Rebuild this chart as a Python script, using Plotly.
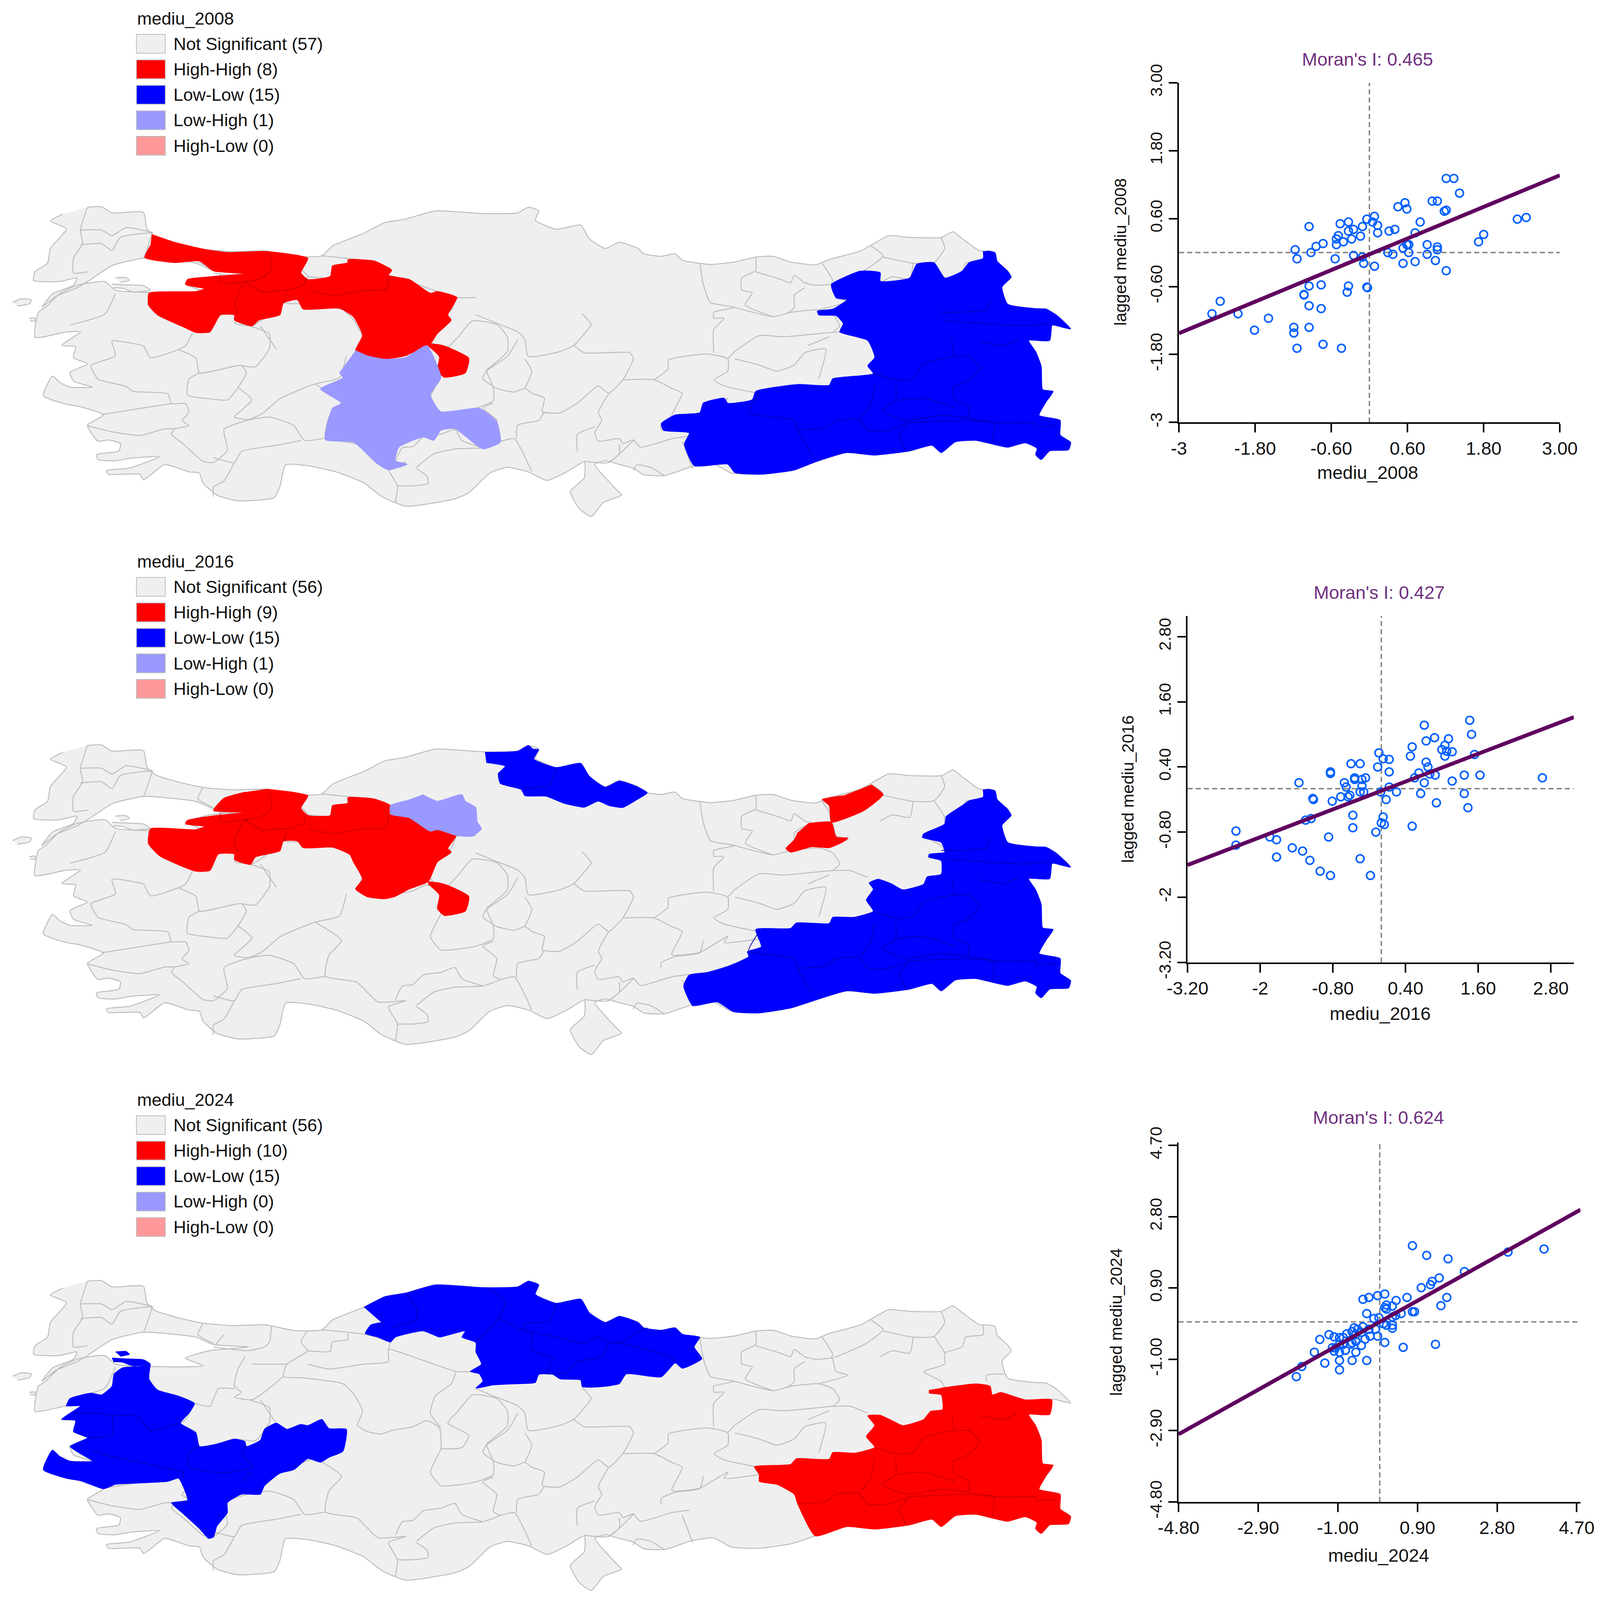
import plotly.graph_objects as go

W = 4104
H = 4602

YEARS = ["2008", "2016", "2024"]
MORAN_I = [0.465, 0.427, 0.624]
MORAN_B = [-0.03, -0.04, 0.0]
LEGEND_NAMES = ["Not Significant", "High-High", "Low-Low", "Low-High", "High-Low"]
LEGEND_COUNTS = [[57, 8, 15, 1, 0], [56, 9, 15, 1, 0], [56, 10, 15, 0, 0]]

TICKS_2008 = [-3, -1.8, -0.6, 0.6, 1.8, 3.0]
TICKTEXT_2008 = ["-3", "-1.80", "-0.60", "0.60", "1.80", "3.00"]
TICKS_2016 = [-3.2, -2, -0.8, 0.4, 1.6, 2.8]
TICKTEXT_2016 = ["-3.20", "-2", "-0.80", "0.40", "1.60", "2.80"]
TICKS_2024 = [-4.8, -2.9, -1.0, 0.9, 2.8, 4.7]
TICKTEXT_2024 = ["-4.80", "-2.90", "-1.00", "0.90", "2.80", "4.70"]

X_2008 = [-2.48, -2.35, -2.07, -1.81, -1.59, -1.19, -1.19, -1.14, -1.17, -1.14, -0.95, -0.92, -0.84, -0.73, -0.95, -0.76,
          -1.03, -1.03, -0.95, -0.76, -0.95, -0.73, -0.44, -0.54, -0.52, -0.52, -0.49, -0.46, -0.41, -0.33, -0.33, -0.28,
          -0.25, -0.25, -0.14, -0.11, -0.11, -0.04, 0.08, 0.05, 0.13, 0.13, -0.33, -0.35, -0.04, -0.03, -0.09, 0.08,
          0.29, 0.37, 0.31, 0.40, 0.45, 0.56, 0.59, 0.53, 0.62, 0.62, 0.53, 0.72, 0.72, 0.80, 0.91, 0.91, 1.07, 1.07,
          1.04, 1.21, 0.99, 1.07, 1.18, 1.21, 1.21, 1.33, 1.42, 1.72, 1.80, 2.33, 2.47, 0.59]
Y_2008 = [-1.08, -0.86, -1.08, -1.37, -1.16, -1.32, -1.42, -1.69, 0.05, -0.11, 0.46, 0.0, 0.11, 0.16, -0.59, -0.57,
          -0.74, -0.75, -0.94, -0.99, -1.32, -1.62, -1.69, -0.11, 0.14, 0.24, 0.30, 0.51, 0.19, 0.54, 0.38, 0.24,
          0.41, -0.05, 0.29, 0.46, -0.08, 0.59, 0.64, 0.54, 0.48, 0.35, -0.59, -0.70, -0.61, -0.62, -0.19, -0.24,
          0.0, -0.03, 0.38, 0.41, 0.81, 0.88, 0.77, 0.08, 0.14, 0.0, -0.19, -0.16, 0.35, 0.54, 0.14, -0.03, 0.10, 0.05,
          -0.14, -0.32, 0.91, 0.91, 0.73, 0.75, 1.31, 1.31, 1.05, 0.19, 0.32, 0.59, 0.62, 0.14]

X_2016 = [-2.40, -2.40, -1.84, -1.73, -1.73, -1.47, -1.30, -1.18, -1.01, -0.84, -0.35, -0.18, -0.87, -0.47, -0.47, -0.09,
          0.03, 0.0, 0.05, 0.51, 0.65, 0.91, 1.37, 1.43, 2.66, 1.63, 1.37, 1.17, 0.89, 0.71, 0.55, 0.62, 0.77, 0.74, 0.48,
          0.51, 0.71, 0.74, 0.88, 1.00, 1.05, 1.11, 1.05, 1.08, 1.17, 1.46, 1.49, 1.54, 0.80, -1.36, -1.13, -1.12, -1.25,
          -1.16, -0.84, -0.84, -0.81, -0.67, -0.61, -0.58, -0.55, -0.52, -0.50, -0.35, -0.44, -0.44, -0.32, -0.26, -0.32,
          -0.35, -0.29, -0.06, -0.04, 0.03, 0.13, 0.13, 0.13, 0.25, 0.08, -0.01]
Y_2016 = [-0.78, -1.04, -0.89, -0.94, -1.26, -1.09, -1.15, -1.32, -1.52, -1.60, -1.29, -1.60, -0.89, -0.72, -0.49, -0.80,
          -0.52, -0.63, -0.66, -0.69, -0.09, -0.26, -0.09, -0.35, 0.20, 0.25, 0.25, 0.14, 0.25, 0.11, 0.20, 0.29, 0.40, 0.49, 0.60,
          0.77, 1.17, 0.88, 0.94, 0.72, 0.80, 0.92, 0.60, 0.69, 0.68, 1.26, 1.00, 0.63, 0.27, 0.11, -0.18, -0.20, -0.58,
          -0.55, 0.31, 0.28, -0.23, -0.15, 0.11, 0.03, -0.15, -0.12, 0.46, 0.46, 0.17, 0.20, 0.17, 0.20, 0.05,
          -0.06, -0.06, 0.40, 0.66, 0.55, 0.54, 0.31, 0.03, -0.06, -0.20, -0.06]

X_2024 = [-1.99, -1.86, -1.31, -1.56, -1.43, -1.21, -1.09, -0.96, -0.87, -0.66, -0.61, -0.40, -0.44, -0.57, -0.66, -0.70,
          -0.87, -0.96, -1.13, -1.09, -0.96, -0.82, -0.57, -0.44, -0.35, -0.23, -0.10, -0.05, -0.96, -0.96, -0.66, -0.31,
          0.12, 0.56, 1.33, -0.40, -0.26, -0.05, 0.12, -0.31, -0.14, 0.12, 0.16, 0.16, 0.30, 0.39, 0.65, 0.78, 0.83, 0.51,
          0.38, 0.30, 0.30, 0.30, 0.16, 0.78, 1.12, 1.63, 2.02, 3.06, 3.92, 0.99, 1.21, 1.25, 1.42, 1.60, 1.46, -0.57, -0.26,
          -0.02, -1.05, -0.79, -0.53, 0.09]
Y_2024 = [-1.46, -1.19, -1.10, -0.81, -0.47, -0.34, -0.40, -0.42, -0.42, -0.26, -0.16, -0.13, -0.28, -0.34, -0.56, -0.60,
          -0.60, -0.60, -0.69, -0.78, -0.81, -0.76, -0.81, -0.63, -0.46, -0.38, -0.20, -0.38, -1.03, -1.28, -1.03, -1.03,
          -0.55, -0.68, -0.60, 0.60, 0.65, 0.70, 0.74, 0.22, 0.09, 0.38, 0.45, 0.34, 0.42, 0.57, 0.65, 0.27, 0.27, 0.22,
          0.17, 0.13, -0.09, -0.17, -0.09, 2.03, 1.77, 1.68, 1.34, 1.86, 1.94, 0.91, 0.99, 1.08, 1.17, 0.65, 0.43, -0.52, -0.20,
          0.11, -0.69, -0.32, -0.20, -0.05]

# map geometry (map units, y grows downwards)
EAST_EDGE = [(1503, 745), (1500, 805), (1470, 805), (1480, 850), (1488, 910), (1490, 1005), (1505, 1012), (1495, 1055),
             (1485, 1110), (1515, 1130), (1515, 1190), (1530, 1220), (1527, 1250), (1500, 1255), (1488, 1290), (1480, 1270),
             (1482, 1245), (1465, 1222), (1440, 1240), (1415, 1225), (1395, 1212), (1365, 1218), (1345, 1262), (1332, 1232),
             (1300, 1255), (1250, 1272), (1210, 1262), (1165, 1300)]
NE_EDGE = [(1412, 440), (1422, 447), (1425, 482), (1440, 522), (1445, 547), (1432, 587), (1440, 657), (1480, 675),
           (1495, 677), (1510, 702), (1530, 758), (1505, 742)]
NORTH_COAST = [(125, 262), (145, 260), (160, 285), (205, 283), (210, 350), (222, 382), (260, 415), (290, 433), (330, 443),
               (380, 440), (420, 463), (460, 460), (475, 420), (520, 368), (550, 325), (580, 310), (622, 277), (690, 288),
               (740, 285), (755, 262), (770, 277), (765, 315), (795, 352), (830, 335), (842, 390), (865, 430), (885, 405),
               (912, 430), (920, 452), (945, 462), (965, 452), (975, 478), (1015, 495), (1050, 485), (1080, 465), (1105, 462),
               (1130, 485), (1165, 497), (1185, 475), (1230, 440), (1270, 378), (1300, 385), (1345, 385), (1362, 362),
               (1375, 390), (1400, 440)]
SOUTH_COAST = [(1130, 1332), (1085, 1350), (1045, 1345), (1020, 1308), (990, 1318), (950, 1355), (920, 1352), (905, 1325),
               (885, 1310), (865, 1295), (850, 1310), (880, 1410), (888, 1435), (862, 1465), (845, 1522), (828, 1490),
               (815, 1420), (835, 1365), (835, 1300), (810, 1340), (782, 1375), (755, 1340), (725, 1322), (700, 1345),
               (670, 1425), (650, 1450), (580, 1480), (545, 1440), (520, 1385), (480, 1340), (440, 1315), (408, 1312),
               (400, 1400), (392, 1445), (340, 1458), (310, 1435), (290, 1385), (285, 1345), (270, 1340), (250, 1320),
               (235, 1310), (225, 1330), (205, 1372), (200, 1350), (155, 1350), (152, 1335), (185, 1325), (228, 1278),
               (185, 1285), (165, 1295), (140, 1290), (138, 1270), (170, 1255), (172, 1225), (155, 1210), (140, 1215),
               (125, 1150), (148, 1108), (115, 1075), (95, 1065), (62, 1030), (75, 950), (85, 975), (100, 995), (132, 995),
               (105, 970), (100, 935), (125, 900), (105, 875), (108, 830), (88, 825), (115, 770), (95, 770), (50, 792)]
MARMARA_COAST = [(55, 690), (65, 670), (85, 615), (110, 580), (150, 565), (165, 600), (290, 607), (265, 575), (300, 545),
                 (355, 530), (305, 520), (280, 490), (205, 470), (160, 500), (125, 565), (110, 590), (80, 625), (60, 670),
                 (75, 615), (105, 580), (110, 550), (85, 565), (48, 560), (50, 525), (68, 490), (72, 430), (95, 350),
                 (72, 318), (90, 290)]
ISLANDS = [[(18, 650), (30, 635), (45, 640), (42, 655), (25, 665)],
           [(42, 715), (50, 713), (50, 725), (43, 725)],
           [(165, 550), (180, 548), (185, 560), (172, 568)],
           [(160, 575), (178, 578), (205, 582), (215, 600), (190, 607), (175, 592), (162, 590)]]

BORDERS_A = [
    [(125, 262), (115, 355), (118, 410), (105, 470), (105, 530), (125, 525)],
    [(115, 355), (145, 355), (160, 378), (180, 345), (218, 365)],
    [(115, 415), (145, 410), (160, 438), (172, 385), (218, 365)],
    [(218, 365), (208, 450), (205, 470)],
    [(290, 433), (283, 480), (305, 515)],
    [(320, 480), (308, 520)],
    [(388, 445), (385, 510), (378, 530), (355, 545), (305, 530)],
    [(440, 463), (430, 510), (440, 545), (410, 600), (405, 650), (430, 655)],
    [(460, 460), (525, 480), (558, 510)],
    [(497, 475), (497, 500), (475, 510), (472, 548), (440, 545)],
    [(350, 570), (340, 620), (335, 690), (345, 715), (335, 735), (360, 745), (375, 720), (405, 650)],
    [(430, 655), (490, 680), (505, 720), (518, 790), (510, 850)],
    [(360, 600), (410, 600)],
    [(440, 600), (470, 620), (520, 600), (555, 590), (555, 540), (570, 550), (600, 580), (625, 605), (652, 630), (680, 630)],
    [(555, 540), (558, 510)],
    [(652, 630), (645, 680), (622, 730), (615, 800), (630, 860)],
    [(278, 760), (300, 772), (312, 700), (335, 700)],
    [(372, 745), (385, 800), (395, 840)],
    [(510, 850), (525, 875), (545, 885), (560, 870), (590, 855), (610, 830), (628, 860), (630, 945), (615, 1040),
     (630, 1095), (680, 1080), (705, 1050), (705, 1000), (695, 930)],
    [(630, 945), (660, 940), (670, 890), (640, 840), (655, 790), (675, 725), (710, 740), (725, 790), (725, 850), (695, 925)],
    [(680, 700), (710, 735), (740, 770), (750, 800), (755, 870), (800, 850), (820, 825), (840, 760), (845, 740), (832, 695)],
    [(740, 800), (725, 870), (695, 930), (690, 960), (710, 1000), (735, 1015), (750, 1000), (760, 1020), (778, 1040),
     (775, 1095), (800, 1100), (825, 1060), (855, 990), (870, 1020), (890, 965), (905, 880), (900, 855), (835, 855), (820, 825)],
    [(750, 1000), (760, 930), (750, 880)],
    [(705, 1060), (690, 1080), (710, 1130), (705, 1200), (715, 1215), (735, 1205), (760, 1340)],
    [(778, 1095), (770, 1130), (740, 1150), (738, 1205)],
    [(870, 1020), (855, 1100), (860, 1130), (850, 1180), (855, 1215), (885, 1205), (890, 1225), (905, 1210), (915, 1240),
     (960, 1205), (985, 1195)],
    [(890, 965), (935, 965), (960, 1000), (975, 1020), (960, 1115), (1000, 1105), (1040, 1040), (1035, 1065), (1085, 1050)],
    [(935, 965), (955, 920), (955, 885), (1010, 860), (1040, 880), (1040, 930), (1020, 965), (1035, 990), (1080, 1018)],
    [(1040, 880), (1050, 850), (1085, 785), (1120, 790), (1190, 772), (1215, 772), (1240, 800)],
    [(1050, 880), (1085, 905), (1110, 930), (1135, 905), (1150, 855), (1180, 840), (1170, 960)],
    [(1155, 825), (1185, 790)],
    [(1020, 715), (1035, 715), (1020, 760), (1020, 855)],
    [(1000, 490), (1005, 575), (1015, 650), (1050, 670), (1020, 690), (1020, 715)],
    [(1050, 670), (1105, 708), (1130, 690), (1170, 680), (1190, 700), (1200, 745), (1190, 772)],
    [(1080, 465), (1080, 520), (1060, 550), (1060, 600), (1075, 610), (1065, 660), (1105, 708)],
    [(1080, 525), (1115, 555), (1130, 570), (1135, 540), (1150, 570), (1165, 580), (1190, 575)],
    [(1175, 490), (1190, 560), (1188, 575), (1235, 520), (1262, 460), (1245, 420)],
    [(1190, 578), (1195, 630), (1212, 645), (1170, 680)],
    [(1150, 590), (1135, 620), (1135, 670), (1125, 695)],
    [(1262, 465), (1305, 490), (1335, 487), (1350, 430), (1345, 385)],
    [(1335, 487), (1350, 552)],
    [(1305, 490), (1300, 555), (1275, 545), (1258, 570)],
    [(1405, 440), (1405, 480), (1380, 490), (1375, 530), (1350, 555), (1350, 600), (1320, 630), (1345, 670), (1350, 695)],
    [(1410, 670), (1410, 645), (1435, 640)],
]
BORDERS_B = [
    [(165, 555), (150, 640), (100, 685)],
    [(275, 718), (265, 770), (255, 785), (215, 818), (205, 770), (190, 760), (160, 750), (165, 810), (130, 850), (140, 905),
     (180, 935), (190, 955), (240, 965), (245, 1005), (265, 1005), (270, 1040), (260, 1075), (270, 1095), (250, 1108),
     (245, 1130), (262, 1170), (290, 1240), (305, 1245), (325, 1195), (320, 1110), (355, 1072), (385, 1060), (420, 1095),
     (435, 1155), (465, 1145)],
    [(255, 785), (280, 820), (285, 880), (345, 850), (352, 880), (340, 940), (325, 990), (298, 985), (268, 970), (270, 905),
     (285, 880)],
    [(358, 690), (385, 720), (385, 780), (365, 855), (345, 850)],
    [(495, 810), (485, 900), (450, 925), (400, 985), (375, 1045), (355, 1070), (335, 1060), (360, 990), (340, 940)],
    [(450, 925), (488, 1000), (470, 1060), (465, 1145), (510, 1170), (540, 1250), (580, 1245), (555, 1270), (568, 1340), (565, 1410)],
    [(245, 1005), (200, 1025), (145, 1050)],
    [(125, 1095), (160, 1120), (200, 1135), (235, 1108), (250, 1108)],
    [(305, 1225), (335, 1245), (345, 1200), (395, 1175), (430, 1155)],
    [(335, 1245), (320, 1320), (305, 1345), (305, 1385)],
    [(595, 1270), (610, 1300), (612, 1330), (590, 1340), (568, 1340)],
    [(565, 1240), (575, 1185), (590, 1180), (605, 1140), (630, 1130), (650, 1110), (660, 1155), (690, 1185)],
    [(715, 1160), (690, 1185), (650, 1190), (620, 1210), (595, 1265)],
    [(825, 1200), (825, 1130), (850, 1100)],
    [(835, 1240), (870, 1245), (905, 1155)],
    [(870, 1245), (885, 1210), (885, 1170)],
    [(905, 1280), (910, 1255), (930, 1265), (950, 1300)],
    [(945, 1115), (945, 1090), (965, 1065), (1000, 1050), (1005, 1000)],
    [(975, 1160), (990, 1270)],
]

RED_WEST_2008 = [(217, 373), (250, 405), (290, 432), (325, 446), (380, 442), (440, 470), (430, 529), (440, 556), (472, 543),
                 (475, 501), (497, 488), (497, 476), (535, 481), (560, 519), (555, 539), (585, 556), (615, 612), (625, 605),
                 (653, 630), (640, 701), (645, 722), (625, 777), (615, 819), (590, 853), (580, 867), (550, 881), (525, 867),
                 (508, 846), (518, 784), (505, 708), (485, 674), (433, 677), (425, 639), (405, 653), (400, 701), (370, 722),
                 (360, 746), (335, 722), (335, 701), (315, 701), (300, 770), (280, 773), (262, 750), (225, 701), (212, 660),
                 (213, 612), (280, 605), (292, 594), (265, 577), (268, 556), (310, 543), (350, 533), (305, 522), (285, 481),
                 (250, 488), (207, 467), (215, 418)]
RED_WEST_2016 = [(380, 440), (440, 467), (430, 517), (440, 547), (472, 547), (475, 507), (497, 497), (497, 475), (535, 480),
                 (558, 507), (558, 542), (585, 557), (615, 612), (625, 605), (652, 629), (640, 682), (645, 697), (625, 737),
                 (612, 817), (585, 847), (565, 877), (550, 887), (525, 879), (508, 847), (518, 807), (505, 737), (500, 707),
                 (475, 677), (433, 679), (425, 652), (405, 652), (400, 692), (365, 717), (358, 747), (335, 727), (335, 705),
                 (312, 705), (300, 772), (280, 775), (262, 757), (228, 712), (212, 662), (215, 602), (280, 605), (292, 592),
                 (265, 582), (268, 567), (310, 547), (350, 535), (305, 527), (320, 477), (350, 452)]
RED_NEVSEHIR = [(612, 817), (628, 822), (640, 832), (670, 877), (665, 937), (635, 955), (625, 927), (628, 872), (612, 827)]
RED_NE_A_2016 = [(1245, 422), (1262, 462), (1235, 527), (1188, 575), (1185, 507), (1175, 482), (1205, 467)]
RED_NE_B_2016 = [(1155, 580), (1188, 575), (1195, 635), (1212, 639), (1205, 655), (1185, 679), (1160, 675), (1130, 697),
                 (1123, 682), (1135, 647), (1140, 617)]
LOWHIGH_2008 = [(508, 846), (525, 867), (550, 881), (580, 874), (610, 826), (630, 957), (615, 1026), (630, 1095), (685, 1081),
                (710, 1136), (715, 1219), (690, 1247), (650, 1164), (630, 1171), (620, 1212), (605, 1198), (590, 1212),
                (570, 1240), (565, 1295), (582, 1309), (555, 1332), (540, 1309), (505, 1219), (465, 1209), (475, 1081),
                (488, 1060), (458, 1002), (490, 957), (485, 936)]
LOWHIGH_2016 = [(604, 462), (625, 489), (660, 462), (665, 489), (680, 515), (682, 572), (688, 602), (675, 632), (652, 629),
                (625, 605), (615, 612), (585, 557), (558, 542), (558, 507), (580, 487)]
BLUE_NORTH_2016 = [(693, 290), (740, 285), (755, 262), (762, 277), (770, 279), (763, 317), (795, 352), (830, 335), (842, 387),
                   (865, 432), (885, 407), (912, 432), (925, 455), (908, 487), (890, 515), (870, 507), (855, 489), (835, 514),
                   (805, 497), (780, 469), (750, 467), (745, 442), (715, 417), (712, 377), (722, 347), (695, 332)]
BLUE_EAST_CLOSE_2008 = [(1135, 1333), (1090, 1350), (1050, 1343), (1040, 1309), (992, 1315), (978, 1226), (985, 1182), (948, 1171),
                        (945, 1143), (965, 1108), (1000, 1099), (1005, 1060), (1035, 1040), (1040, 1060), (1075, 1046),
                        (1080, 1012), (1140, 984), (1185, 987), (1190, 961), (1248, 940), (1240, 908), (1250, 874), (1240, 805),
                        (1200, 770), (1205, 736), (1195, 704), (1170, 701), (1168, 685), (1190, 677), (1210, 639), (1195, 632),
                        (1188, 577), (1230, 522), (1258, 529), (1258, 563), (1300, 550), (1310, 494), (1335, 488), (1350, 550),
                        (1375, 522), (1385, 487), (1405, 470), (1405, 442)]
BLUE_EAST_CLOSE_2016 = [(1130, 1332), (1085, 1352), (1048, 1347), (1025, 1307), (990, 1322), (977, 1242), (985, 1197), (1010, 1187),
                        (1040, 1162), (1070, 1122), (1068, 1102), (1088, 1082), (1080, 1012), (1130, 1007), (1138, 985), (1185, 987),
                        (1190, 962), (1220, 962), (1248, 937), (1238, 892), (1248, 847), (1242, 822), (1255, 807), (1275, 827),
                        (1290, 850), (1320, 827), (1325, 797), (1345, 787), (1345, 732), (1327, 717), (1328, 705), (1350, 697),
                        (1345, 657), (1318, 637), (1320, 622), (1350, 582), (1352, 552), (1375, 507), (1385, 487), (1405, 472),
                        (1405, 442)]
RED_EAST_TOP_2024 = [(1345, 697), (1395, 680), (1415, 690), (1418, 725), (1430, 715), (1465, 745)]
RED_EAST_CLOSE_2024 = [(1140, 1170), (1135, 1130), (1110, 1090), (1085, 1078), (1085, 1050), (1078, 1018), (1130, 1008), (1138, 985),
                       (1185, 987), (1190, 960), (1222, 962), (1250, 938), (1238, 895), (1250, 850), (1240, 810), (1258, 808),
                       (1275, 830), (1290, 850), (1320, 825), (1330, 792), (1347, 785), (1345, 725), (1328, 718), (1328, 705)]
BLUE_NORTH_2024 = [(520, 368), (550, 325), (580, 310), (622, 277), (690, 288), (740, 285), (755, 262), (770, 277), (765, 315), (795, 352),
                   (830, 335), (842, 390), (865, 430), (885, 405), (912, 430), (920, 452), (945, 462), (965, 452), (975, 478), (1000, 490),
                   (992, 530), (1003, 578), (975, 617), (965, 595), (945, 652), (895, 640), (885, 680), (860, 692), (832, 692), (830, 665),
                   (800, 660), (790, 642), (770, 642), (765, 675), (740, 680), (705, 685), (680, 698), (690, 670), (685, 640), (672, 630),
                   (688, 600), (680, 550), (680, 512), (660, 490), (665, 465), (640, 482), (628, 490), (605, 465), (565, 490), (558, 510),
                   (540, 490), (522, 475), (530, 440), (545, 430)]
BLUE_WEST_2024 = [(215, 602), (213, 660), (225, 705), (255, 730), (278, 760), (270, 800), (258, 840), (280, 880), (285, 935), (310, 925),
                  (335, 905), (350, 915), (352, 935), (372, 910), (378, 865), (395, 840), (410, 865), (430, 845), (440, 850), (460, 825),
                  (470, 862), (495, 865), (490, 955), (470, 980), (458, 1000), (440, 985), (420, 1030), (400, 1045), (378, 1095), (372, 1130),
                  (345, 1130), (325, 1165), (325, 1205), (310, 1260), (305, 1305), (298, 1310), (285, 1270), (262, 1210), (245, 1165),
                  (268, 1155), (262, 1100), (255, 1065), (240, 1078), (195, 1085), (165, 1090), (148, 1108), (115, 1075), (95, 1065), (62, 1030),
                  (75, 950), (85, 975), (100, 995), (132, 995), (115, 965), (100, 935), (125, 900), (105, 875), (108, 830), (88, 825), (115, 770),
                  (95, 770), (100, 740), (130, 718), (145, 725), (160, 690), (163, 640), (175, 615), (195, 610)]

INNER_EAST = [
    [(1360, 800), (1365, 870), (1385, 870), (1400, 920), (1380, 975), (1362, 995), (1365, 1050), (1385, 1075), (1385, 1120), (1420, 1140), (1480, 1140)],
    [(1365, 870), (1320, 900), (1305, 960), (1280, 965), (1250, 940)],
    [(1250, 985), (1245, 1060), (1230, 1125), (1240, 1170), (1270, 1170), (1300, 1140), (1285, 1190), (1295, 1255)],
    [(1280, 985), (1280, 1050), (1260, 1090), (1295, 1130), (1345, 1110), (1385, 1120)],
    [(1280, 1050), (1320, 1040), (1365, 1080)],
    [(1230, 1125), (1195, 1130), (1180, 1160), (1140, 1170)],
    [(1300, 1140), (1420, 1140), (1418, 1220)],
    [(1480, 1140), (1480, 1155), (1510, 1150)],
    [(1400, 810), (1435, 825), (1455, 800)],
]
INNER_EAST_EXTRA = [
    [(1345, 690), (1410, 680), (1415, 640)],
    [(1350, 725), (1465, 745), (1500, 735)],
    [(1085, 1020), (1070, 1100), (1135, 1130), (1140, 1170), (1160, 1270)],
]
INNER_WEST_RED = [
    [(385, 452), (388, 517), (370, 557), (350, 567), (345, 587), (335, 657), (340, 697)],
    [(350, 567), (375, 607), (410, 602), (405, 652)],
    [(410, 602), (435, 577), (435, 547)],
    [(440, 602), (480, 622), (515, 602), (552, 597), (555, 547)],
    [(315, 537), (315, 572), (355, 562)],
]
INNER_NORTH_2016 = [[(795, 352), (785, 425), (750, 435)]]
INNER_NORTH_2024 = [
    [(580, 310), (595, 370), (595, 420), (560, 450)],
    [(695, 288), (722, 345), (712, 415), (680, 510)],
    [(712, 415), (750, 465), (760, 470), (760, 545), (790, 575), (780, 640)],
    [(795, 352), (785, 425), (750, 435), (750, 465)],
    [(760, 470), (810, 500), (835, 515), (855, 490), (870, 510), (885, 515), (905, 480), (925, 452)],
    [(870, 510), (860, 570), (825, 590), (810, 635), (780, 640)],
    [(885, 515), (930, 545), (960, 575), (965, 595)],
]
INNER_WEST_2024 = [
    [(105, 800), (140, 800), (160, 810), (195, 810), (215, 870), (255, 840)],
    [(160, 810), (160, 890), (125, 900)],
    [(130, 950), (150, 970), (200, 1000), (240, 1025), (262, 1040)],
    [(285, 935), (270, 960), (270, 1020), (305, 1040), (330, 1040), (360, 1020), (345, 960), (352, 935)],
    [(262, 1060), (262, 1040)],
    [(345, 1080), (360, 1040)],
]

GRAY = "#efefef"
RED = "#ff0000"
BLUE = "#0000ff"
LAV = "#9999ff"
PINK = "#ff9999"
SWATCHES = [GRAY, RED, BLUE, LAV, PINK]

blue_east_2008 = NE_EDGE + EAST_EDGE + BLUE_EAST_CLOSE_2008
blue_east_2016 = NE_EDGE + EAST_EDGE + BLUE_EAST_CLOSE_2016
red_east_2024 = RED_EAST_TOP_2024 + EAST_EDGE + RED_EAST_CLOSE_2024
turkey = NORTH_COAST + NE_EDGE + EAST_EDGE + SOUTH_COAST + MARMARA_COAST
borders_b = [[(x, y + 57) for x, y in line] for line in BORDERS_B]

# fill colour, polygons, colour of inner lines, inner lines
REGIONS = [
    [(RED, [RED_WEST_2008, RED_NEVSEHIR], "#c80000", INNER_WEST_RED),
     (BLUE, [blue_east_2008], "#0000b4", INNER_EAST + INNER_EAST_EXTRA),
     (LAV, [LOWHIGH_2008], LAV, [])],
    [(RED, [RED_WEST_2016, RED_NEVSEHIR, RED_NE_A_2016, RED_NE_B_2016], "#c80000", INNER_WEST_RED),
     (BLUE, [blue_east_2016, BLUE_NORTH_2016], "#0000b4", INNER_EAST + INNER_EAST_EXTRA + INNER_NORTH_2016),
     (LAV, [LOWHIGH_2016], LAV, [])],
    [(RED, [red_east_2024], "#c80000", INNER_EAST),
     (BLUE, [BLUE_NORTH_2024, BLUE_WEST_2024] + ISLANDS[2:], "#0000b4", INNER_NORTH_2024 + INNER_WEST_2024)],
]

MAP_TOPS = [596, 2144, 3685]
LEGEND_TOPS = [53, 1615, 3163]
BOXES = [(3024, 4001, 238, 1215), (3046, 4037, 1772, 2768), (3023, 4054, 3286, 4320)]
RANGES = [(-3, 3), (-3.2, 3.18), (-4.8, 4.79)]
YRANGES = [(-3, 3), (-3.2, 3.18), (-4.8, 4.78)]
TICKS = [(TICKS_2008, TICKTEXT_2008), (TICKS_2016, TICKTEXT_2016), (TICKS_2024, TICKTEXT_2024)]
POINTS = [(X_2008, Y_2008), (X_2016, Y_2016), (X_2024, Y_2024)]
TITLE_POS = [(3508, 170), (3538, 1704), (3536, 3214)]
XT_POS = [(3508, 1359), (3540, 2915), (3536, 4473)]
YT_POS = [(2874, 724), (2892, 2269), (2863, 3802)]

FONT = "Liberation Sans"
MAP_LINE = dict(color="#bdbdbd", width=2.5, shape="spline", smoothing=0.5)
fig = go.Figure()
layout = {}
shapes = []
notes = []


def unzip(polys):
    xs, ys = [], []
    for poly in polys:
        xs += [p[0] for p in poly] + [None]
        ys += [p[1] for p in poly] + [None]
    return xs, ys


def note(x, y, text, size, color="#111111", anchor="center", angle=0):
    notes.append(dict(x=x / W, y=1 - y / H, xref="paper", yref="paper", text=text, showarrow=False,
                      xanchor=anchor, yanchor="middle", textangle=angle,
                      font=dict(family=FONT, size=size, color=color)))


for i, year in enumerate(YEARS):
    # map panel
    xa, ya = "x%d" % (i + 1), "y%d" % (i + 1)
    top = MAP_TOPS[i] + (200 - 262) * 0.706
    bottom = MAP_TOPS[i] + (1560 - 262) * 0.706
    layout["xaxis%d" % (i + 1)] = dict(domain=[0, 2800 / W], range=[0, 1560], visible=False, fixedrange=True, automargin=False)
    layout["yaxis%d" % (i + 1)] = dict(domain=[1 - bottom / H, 1 - top / H], range=[1560, 200], visible=False,
                                       fixedrange=True, anchor=xa, automargin=False)
    px, py = unzip([turkey] + ISLANDS)
    fig.add_trace(go.Scatter(x=px, y=py, xaxis=xa, yaxis=ya, mode="lines", fill="toself", fillcolor=GRAY,
                             line=MAP_LINE, hoverinfo="skip", showlegend=False))
    px, py = unzip(BORDERS_A + borders_b)
    fig.add_trace(go.Scatter(x=px, y=py, xaxis=xa, yaxis=ya, mode="lines", line=MAP_LINE, hoverinfo="skip", showlegend=False))
    for color, polys, inner_color, inner in REGIONS[i]:
        px, py = unzip(polys)
        fig.add_trace(go.Scatter(x=px, y=py, xaxis=xa, yaxis=ya, mode="lines", fill="toself", fillcolor=color,
                                 line=dict(color=color, width=1.5, shape="spline", smoothing=0.5),
                                 hoverinfo="skip", showlegend=False))
        if inner:
            px, py = unzip(inner)
            fig.add_trace(go.Scatter(x=px, y=py, xaxis=xa, yaxis=ya, mode="lines",
                                     line=dict(color=inner_color, width=2, shape="spline", smoothing=0.5),
                                     hoverinfo="skip", showlegend=False))

    # legend
    note(350, LEGEND_TOPS[i], "mediu_" + year, 45, anchor="left")
    for j, name in enumerate(LEGEND_NAMES):
        cy = LEGEND_TOPS[i] + 73 + j * 73.3
        shapes.append(dict(type="rect", xref="paper", yref="paper", x0=350 / W, x1=424 / W,
                           y0=1 - (cy - 27) / H, y1=1 - (cy + 27) / H, fillcolor=SWATCHES[j],
                           line=dict(color="#bdbdbd", width=2)))
        note(443, cy, "%s (%d)" % (name, LEGEND_COUNTS[i][j]), 45, anchor="left")

    # moran scatter panel
    n = i + 4
    xa, ya = "x%d" % n, "y%d" % n
    left, right, btop, bbot = BOXES[i]
    vals, texts = TICKS[i]
    axis = dict(showline=True, linecolor="black", linewidth=4, showgrid=False, zeroline=False, ticks="outside",
                ticklen=22, tickwidth=4, tickcolor="black", tickmode="array", tickvals=vals, ticktext=texts,
                fixedrange=True, automargin=False)
    layout["xaxis%d" % n] = dict(axis, domain=[left / W, right / W], range=list(RANGES[i]), anchor=ya, tickangle=0,
                                 tickfont=dict(family=FONT, size=47, color="#111111"))
    layout["yaxis%d" % n] = dict(axis, domain=[1 - bbot / H, 1 - btop / H], range=list(YRANGES[i]), anchor=xa, tickangle=-90,
                                 tickfont=dict(family=FONT, size=43, color="#111111"))
    x0, x1 = RANGES[i]
    y0, y1 = YRANGES[i]
    dash = dict(color="#7f7f7f", width=3.5, dash="13px,8px")
    fig.add_trace(go.Scatter(x=[x0, x1], y=[0, 0], xaxis=xa, yaxis=ya, mode="lines", line=dash, hoverinfo="skip", showlegend=False))
    fig.add_trace(go.Scatter(x=[0, 0], y=[y0, y1], xaxis=xa, yaxis=ya, mode="lines", line=dash, hoverinfo="skip", showlegend=False))
    fig.add_trace(go.Scatter(x=POINTS[i][0], y=POINTS[i][1], xaxis=xa, yaxis=ya, mode="markers",
                             marker=dict(symbol="circle-open", size=20, color="#0060ff", line=dict(width=4, color="#0060ff")),
                             hoverinfo="skip", showlegend=False))
    b = MORAN_B[i]
    fig.add_trace(go.Scatter(x=[x0, x1], y=[b + MORAN_I[i] * x0, b + MORAN_I[i] * x1], xaxis=xa, yaxis=ya, mode="lines",
                             line=dict(color="#600060", width=10), hoverinfo="skip", showlegend=False))
    note(TITLE_POS[i][0], TITLE_POS[i][1], "Moran's I: %.3f" % MORAN_I[i], 47, color="#70307f")
    note(XT_POS[i][0], XT_POS[i][1], "mediu_" + year, 47)
    note(YT_POS[i][0], YT_POS[i][1], "lagged mediu_" + year, 43, angle=-90)

fig.update_layout(width=W, height=H, margin=dict(l=0, r=0, t=0, b=0), paper_bgcolor="white", plot_bgcolor="white",
                  shapes=shapes, annotations=notes, hovermode=False, **layout)

# the browser window can come out smaller than asked, so make the figure fill whatever window there is
fit_window = """
document.body.style.margin = '0';
document.body.style.overflow = 'hidden';
Plotly.relayout(document.getElementById('{plot_id}'), {width: window.innerWidth, height: window.innerHeight});
"""
fig.write_html("out.html", config=dict(displayModeBar=False), post_script=fit_window)
